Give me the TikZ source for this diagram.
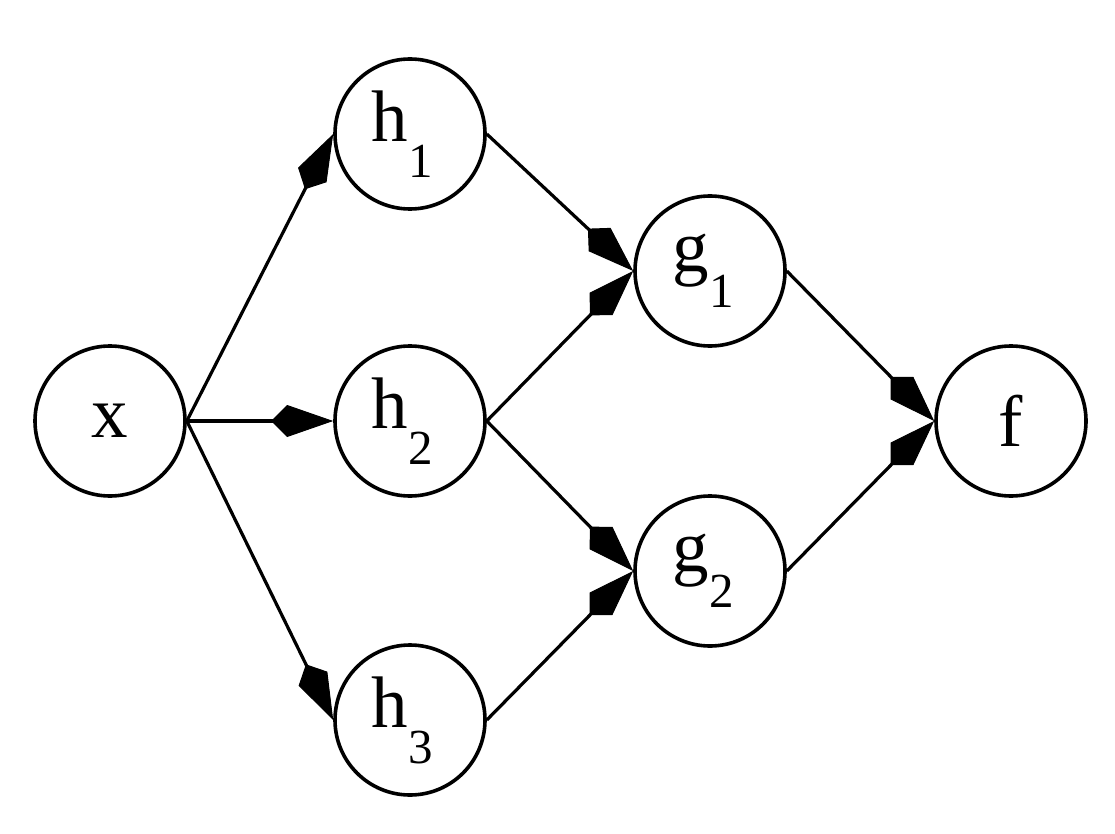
\documentclass[tikz,border=0pt]{standalone}
\usepackage{fontspec}
\setmainfont{Liberation Serif}
\usetikzlibrary{arrows.meta}
\newcommand{\sublab}[2]{#1\raisebox{-36pt}{\fontsize{49}{58}\selectfont #2}}
\tikzset{
  vnode/.style={circle, draw, line width=3.6pt, minimum size=150pt, inner sep=0pt},
  vlab/.style={font=\fontsize{73}{86}\selectfont, inner sep=0pt},
  edge/.style={line width=3.2pt, -{Kite[length=62pt, width=32pt, inset=16pt, line width=1pt]}}
}
\begin{document}
\begin{tikzpicture}[x=1pt, y=-1pt]
\useasboundingbox (0,0) rectangle (1115,834);
\fill[white] (0,0) rectangle (1115,834);
\node[vnode] (x) at (110,421) {};
\node[vnode] (h1) at (410,134) {};
\node[vnode] (h2) at (410,421) {};
\node[vnode] (h3) at (410,720) {};
\node[vnode] (g1) at (710,271) {};
\node[vnode] (g2) at (710,571) {};
\node[vnode] (f) at (1011,421) {};
\node[vlab] (tx) at (x.center) {x};
\node[vlab] (th1) at ([xshift=-8pt]h1.center) {\sublab{h}{1}};
\node[vlab] (th2) at ([xshift=-8pt]h2.center) {\sublab{h}{2}};
\node[vlab] (th3) at ([xshift=-8pt]h3.center) {\sublab{h}{3}};
\node[vlab] (tg1) at ([xshift=-7pt]g1.center) {\sublab{g}{1}};
\node[vlab] (tg2) at ([xshift=-7pt]g2.center) {\sublab{g}{2}};
\node[vlab] (tf) at (f.center) {f};
\draw[edge] (x.east) -- (h1.west);
\draw[edge] (x.east) -- (h2.west);
\draw[edge] (x.east) -- (h3.west);
\draw[edge] (h1.east) -- (g1.west);
\draw[edge] (h2.east) -- (g1.west);
\draw[edge] (h2.east) -- (g2.west);
\draw[edge] (h3.east) -- (g2.west);
\draw[edge] (g1.east) -- (f.west);
\draw[edge] (g2.east) -- (f.west);
\end{tikzpicture}
\end{document}
